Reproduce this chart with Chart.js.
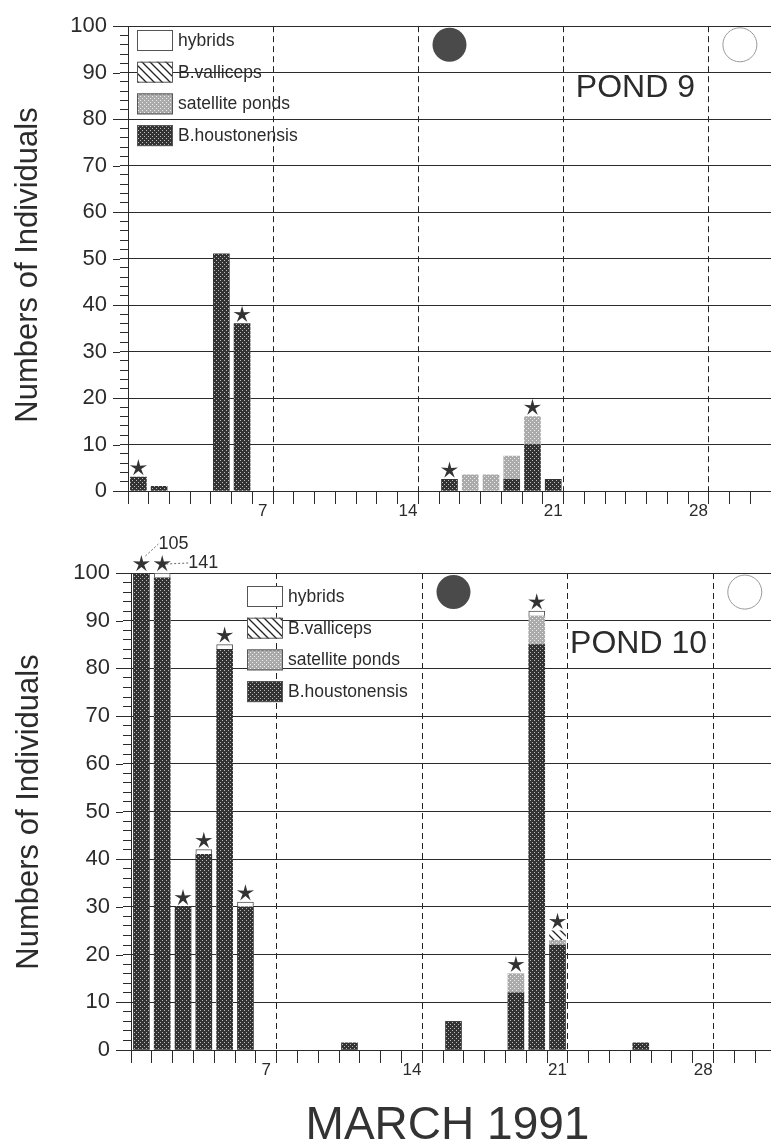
<!DOCTYPE html>
<html>
<head>
<meta charset="utf-8">
<style>
  html, body { margin: 0; padding: 0; background: #fff; overflow: hidden; width: 771px; height: 1146px; }
  canvas { position: absolute; left: 0; display: block; }
  #pond9 { top: 0; }
  #pond10 { top: 530px; }
</style>
<script src="https://cdn.jsdelivr.net/npm/chart.js@4/dist/chart.umd.js"></script>
</head>
<body>
<canvas id="pond9" width="771" height="530"></canvas>
<canvas id="pond10" width="776" height="616"></canvas>
<script>
const days = [];
for (let d = 1; d <= 31; d++) days.push(d);
const xTickLabels = [7, 14, 21, 28];
const weekLines = [7, 14, 21, 28];
const seriesNames = ['B.houstonensis', 'satellite ponds', 'B.valliceps', 'hybrids'];

// POND 9
const p9Houston = [3, 1, null, null, 51, 36, null, null, null, null, null, null, null, null, null, 2.5, null, null, 2.5, 10, 2.5, null, null, null, null, null, null, null, null, null, null];
const p9Satellite = [null, null, null, null, null, null, null, null, null, null, null, null, null, null, null, null, 3.5, 3.5, 5, 6, null, null, null, null, null, null, null, null, null, null, null];
const p9Valliceps = new Array(31).fill(null);
const p9Hybrids = new Array(31).fill(null);
const p9Stars = [1, 6, 16, 20];

// POND 10
const p10Houston = [105, 99, 30, 41, 84, 30, null, null, null, null, 1.5, null, null, null, null, 6, null, null, 12, 85, 22, null, null, null, 1.5, null, null, null, null, null, null];
const p10Satellite = [null, null, null, null, null, null, null, null, null, null, null, null, null, null, null, null, null, null, 4, 6, 1, null, null, null, null, null, null, null, null, null, null];
const p10Valliceps = [null, null, null, null, null, null, null, null, null, null, null, null, null, null, null, null, null, null, null, null, 2, null, null, null, null, null, null, null, null, null, null];
const p10Hybrids = [null, 1, null, 1, 1, 1, null, null, null, null, null, null, null, null, null, null, null, null, null, 1, null, null, null, null, null, null, null, null, null, null, null];
const p10Stars = [1, 2, 3, 4, 5, 6, 19, 20, 21];
const p10OffScale = [{ day: 1, text: '105' }, { day: 2, text: '141' }];

const newMoonDay = 16;
const fullMoonDay = 30;
const INK = '#2b2b2b';
const FONT = '"Liberation Sans", Arial, sans-serif';

function speckle(base, dot, step) {
    const c = document.createElement('canvas');
    c.width = c.height = step * 2;
    const g = c.getContext('2d');
    g.fillStyle = base;
    g.fillRect(0, 0, c.width, c.height);
    g.fillStyle = dot;
    g.fillRect(0, 0, 1, 1);
    g.fillRect(step, step, 1, 1);
    return document.createElement('canvas').getContext('2d').createPattern(c, 'repeat');
}

function hatch() {
    const c = document.createElement('canvas');
    c.width = c.height = 8;
    const g = c.getContext('2d');
    g.fillStyle = '#fff';
    g.fillRect(0, 0, 8, 8);
    g.strokeStyle = '#222';
    g.lineWidth = 1.3;
    g.beginPath();
    g.moveTo(-2, -2); g.lineTo(10, 10);
    g.moveTo(-2, 6); g.lineTo(2, 10);
    g.moveTo(6, -2); g.lineTo(10, 2);
    g.stroke();
    return document.createElement('canvas').getContext('2d').createPattern(c, 'repeat');
}

const fills = {
    'B.houstonensis': speckle('#333', '#bbb', 2),
    'satellite ponds': speckle('#aaa', '#eee', 2),
    'B.valliceps': hatch(),
    'hybrids': '#fff'
};

function drawStar(ctx, x, y, r) {
    ctx.save();
    ctx.fillStyle = '#333';
    ctx.beginPath();
    for (let i = 0; i < 10; i++) {
        const rad = i % 2 ? r * 0.33 : r;
        const a = -Math.PI / 2 + i * Math.PI / 5;
        ctx.lineTo(x + rad * Math.cos(a), y + rad * Math.sin(a));
    }
    ctx.closePath();
    ctx.fill();
    ctx.restore();
}

const pondExtras = {
    id: 'pondExtras',
    afterDatasetsDraw(chart, args, opts) {
        const ctx = chart.ctx;
        const xs = chart.scales.x;
        const ys = chart.scales.y;
        const area = chart.chartArea;

        // longer ticks on the tens
        ctx.save();
        ctx.strokeStyle = INK;
        ctx.lineWidth = 1;
        ys.ticks.forEach(t => {
            if (t.value % 10 === 0) {
                const y = Math.round(ys.getPixelForValue(t.value)) + 0.5;
                ctx.beginPath();
                ctx.moveTo(area.left - 15, y);
                ctx.lineTo(area.left - 8, y);
                ctx.stroke();
            }
        });
        ctx.restore();

        // stars over the bars
        opts.stars.forEach(day => {
            let total = 0;
            chart.data.datasets.forEach(ds => { total += ds.data[day - 1] || 0; });
            const y = ys.getPixelForValue(Math.min(total, 100)) - 9;
            drawStar(ctx, xs.getPixelForValue(day - 1), y, 9);
        });

        // counts that run off the scale
        ctx.save();
        ctx.fillStyle = INK;
        ctx.strokeStyle = '#666';
        ctx.font = '18px ' + FONT;
        ctx.textBaseline = 'middle';
        opts.offScale.forEach((o, i) => {
            const bx = xs.getPixelForValue(o.day - 1);
            const top = ys.getPixelForValue(100);
            const ty = i === 0 ? top - 29 : top - 10;
            const tx = bx + 17 + i * 9;
            ctx.setLineDash([2, 2]);
            ctx.beginPath();
            ctx.moveTo(bx + 4, top - 17 + i * 8);
            ctx.lineTo(tx, ty);
            ctx.stroke();
            ctx.setLineDash([]);
            ctx.fillText(o.text, tx, ty);
        });
        ctx.restore();

        // moon phases
        ctx.save();
        const moonY = ys.getPixelForValue(96);
        ctx.fillStyle = '#4a4a4a';
        ctx.beginPath();
        ctx.arc(xs.getPixelForValue(newMoonDay - 1), moonY, 17, 0, Math.PI * 2);
        ctx.fill();
        ctx.strokeStyle = '#999';
        ctx.fillStyle = '#fff';
        ctx.beginPath();
        ctx.arc(xs.getPixelForValue(fullMoonDay - 1), moonY, 17, 0, Math.PI * 2);
        ctx.fill();
        ctx.stroke();
        ctx.restore();

        // pond name
        ctx.save();
        ctx.fillStyle = INK;
        ctx.font = '32px ' + FONT;
        ctx.textAlign = 'right';
        ctx.textBaseline = 'middle';
        ctx.fillText(opts.name, opts.nameRight, opts.nameY);
        ctx.restore();

        // legend, top of the stack first
        ctx.save();
        ctx.font = '17.5px ' + FONT;
        ctx.textBaseline = 'middle';
        chart.data.datasets.slice().reverse().forEach((ds, i) => {
            const y = opts.legendY + i * 31.7;
            ctx.fillStyle = ds.backgroundColor;
            ctx.fillRect(opts.legendX, y, 36, 21);
            ctx.strokeStyle = '#555';
            ctx.strokeRect(opts.legendX + 0.5, y + 0.5, 35, 20);
            ctx.fillStyle = INK;
            ctx.fillText(ds.label, opts.legendX + 41, y + 11);
        });
        ctx.restore();

        // axis titles
        ctx.save();
        ctx.fillStyle = INK;
        ctx.font = '31px ' + FONT;
        ctx.textAlign = 'center';
        ctx.textBaseline = 'middle';
        ctx.translate(opts.yTitleX, opts.yTitleY);
        ctx.rotate(-Math.PI / 2);
        ctx.fillText('Numbers of Individuals', 0, 0);
        ctx.restore();
        if (opts.xTitle) {
            ctx.save();
            ctx.fillStyle = '#333';
            ctx.font = '46px ' + FONT;
            ctx.textAlign = 'center';
            ctx.textBaseline = 'alphabetic';
            ctx.fillText(opts.xTitle, 447.5, 609);
            ctx.restore();
        }
    }
};

function makePond(id, series, cfg) {
    return new Chart(document.getElementById(id), {
        type: 'bar',
        data: {
            labels: days,
            datasets: seriesNames.map((name, i) => ({
                label: name,
                data: series[i],
                backgroundColor: fills[name],
                borderColor: '#555',
                borderWidth: name === 'hybrids' ? 1 : 0,
                barThickness: 16
            }))
        },
        options: {
            responsive: false,
            animation: false,
            layout: { padding: { top: cfg.top, right: 0, left: 0, bottom: 0 } },
            plugins: {
                legend: { display: false },
                tooltip: { enabled: false },
                pondExtras: cfg.extras
            },
            scales: {
                x: {
                    stacked: true,
                    afterFit: s => { s.height = cfg.xHeight; },
                    grid: {
                        offset: true,
                        tickLength: 13,
                        tickColor: INK,
                        color: c => weekLines.includes(c.index) ? '#222' : 'transparent'
                    },
                    border: { color: INK, dash: [6, 4] },
                    ticks: {
                        autoSkip: false,
                        maxRotation: 0,
                        padding: -3,
                        color: INK,
                        font: { family: FONT, size: 17 },
                        callback(v, i) { return xTickLabels.includes(days[i]) ? String(days[i]) : ''; }
                    }
                },
                y: {
                    stacked: true,
                    min: 0,
                    max: 100,
                    afterFit: s => { s.width = cfg.left; },
                    grid: {
                        tickLength: 8,
                        tickColor: INK,
                        color: c => c.tick.value % 10 === 0 ? INK : 'transparent'
                    },
                    border: { color: INK },
                    ticks: {
                        stepSize: 2,
                        autoSkip: false,
                        padding: 13,
                        color: INK,
                        font: { family: FONT, size: 22 },
                        callback: v => v % 10 === 0 ? String(v) : ''
                    }
                }
            }
        },
        plugins: [pondExtras]
    });
}

makePond('pond9', [p9Houston, p9Satellite, p9Valliceps, p9Hybrids], {
    top: 16,
    left: 128,
    xHeight: 39,
    extras: { stars: p9Stars, offScale: [], name: 'POND 9', nameRight: 695, nameY: 88, legendX: 137, legendY: 30, yTitleX: 28, yTitleY: 265 }
});

makePond('pond10', [p10Houston, p10Satellite, p10Valliceps, p10Hybrids], {
    top: 43,
    left: 131,
    xHeight: 96,
    extras: { stars: p10Stars, offScale: p10OffScale, name: 'POND 10', nameRight: 707, nameY: 114, legendX: 247, legendY: 56, yTitleX: 29, yTitleY: 282, xTitle: 'MARCH 1991' }
});
</script>
</body>
</html>
